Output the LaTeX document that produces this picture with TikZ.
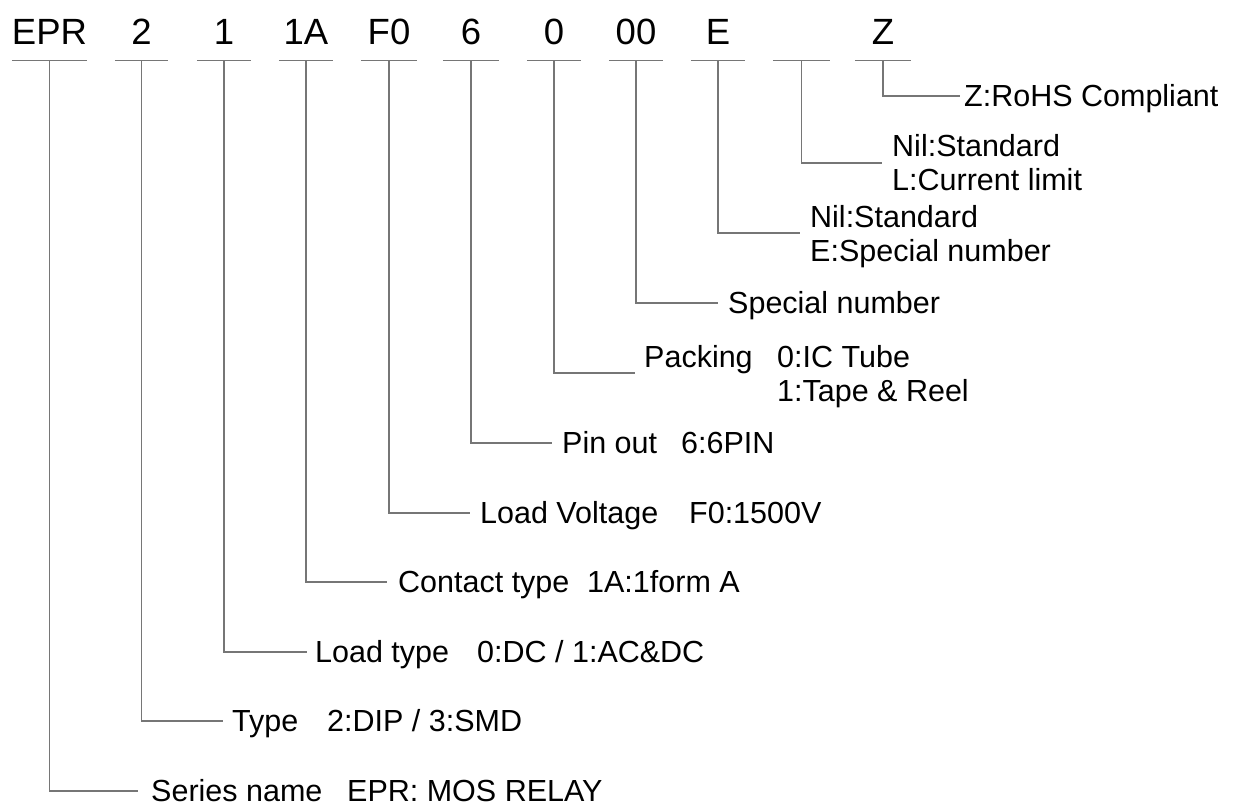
\documentclass[tikz,border=0pt]{standalone}
\usepackage{fontspec}
\setmainfont{Liberation Sans}
\definecolor{linegray}{RGB}{118,118,118}
\begin{document}
\begin{tikzpicture}[x=1pt,y=-1pt,
  conn/.style={draw=linegray, line width=1.3pt},
  code/.style={font=\fontsize{36.5}{40}\selectfont, anchor=base, inner xsep=0pt, inner ysep=15pt,
    text height=26.1pt, text depth=0pt, minimum width=#1},
  code/.default=55pt,
  lbl/.style={font=\fontsize{30.5}{34}\selectfont, anchor=west, inner xsep=#1, inner ysep=0pt,
    text height=21.8pt, text depth=0pt},
  lbl/.default=10pt,
  lbltwo/.style={font=\fontsize{30.5}{34}\selectfont, anchor=west, align=left, inner xsep=#1, inner ysep=0pt},
  lbltwo/.default=10pt]
\useasboundingbox (0,0) rectangle (1243,803);

% code nodes
\node[code=75pt] (c1)  at (49.5,45) {EPR};
\node[code=53pt] (c2)  at (141.5,45) {2};
\node[code=54pt] (c3)  at (224,45) {1};
\node[code=54pt] (c4)  at (306,45) {1A};
\node[code=56pt] (c5)  at (389,45) {F0};
\node[code=56pt] (c6)  at (471,45) {6};
\node[code=54pt] (c7)  at (554,45) {0};
\node[code=54pt] (c8)  at (636,45) {00};
\node[code=54pt] (c9)  at (718,45) {E};
\node[code=57pt] (c10) at (801.5,45) {};
\node[code=56pt] (c11) at (883,45) {Z};

% label nodes
\node[lbl=13pt] (l1) at (138,791) {\makebox[196pt][l]{Series name}EPR: MOS RELAY};
\node[lbl=9pt]  (l2) at (223,721) {\makebox[95pt][l]{Type}2:DIP / 3:SMD};
\node[lbl=8pt]  (l3) at (307,652) {\makebox[162pt][l]{Load type}0:DC / 1:AC\&DC};
\node[lbl=11pt] (l4) at (387,582) {\makebox[189pt][l]{Contact type}1A:1form A};
\node[lbl=10pt] (l5) at (470,513) {\makebox[209pt][l]{Load Voltage}F0:1500V};
\node[lbl=10pt] (l6) at (552,443) {\makebox[119pt][l]{Pin out}6:6PIN};
\node[lbltwo=9pt] (l7) at (635,373) {\makebox[133pt][l]{Packing}0:IC Tube\\\hspace*{133pt}\smash{1:Tape \& Reel}};
\node[lbl=10pt] (l8) at (718,303) {Special number};
\node[lbltwo=10pt] (l9) at (800,233) {Nil:Standard\\\smash{E:Special number}};
\node[lbltwo=10pt] (l10) at (882,163) {Nil:Standard\\L:Current limit};
\node[lbl=4pt] (l11) at (960,96) {Z:RoHS Compliant};

% underlines
\foreach \n in {c1,c2,c3,c4,c5,c6,c7,c8,c9,c10,c11}
  \draw[conn] (\n.south west) -- (\n.south east);

% connectors
\foreach \c/\l in {c1/l1,c2/l2,c3/l3,c4/l4,c5/l5,c6/l6,c7/l7,c8/l8,c9/l9,c10/l10,c11/l11}
  \draw[conn] (\c.south) |- (\l.west);
\end{tikzpicture}
\end{document}
